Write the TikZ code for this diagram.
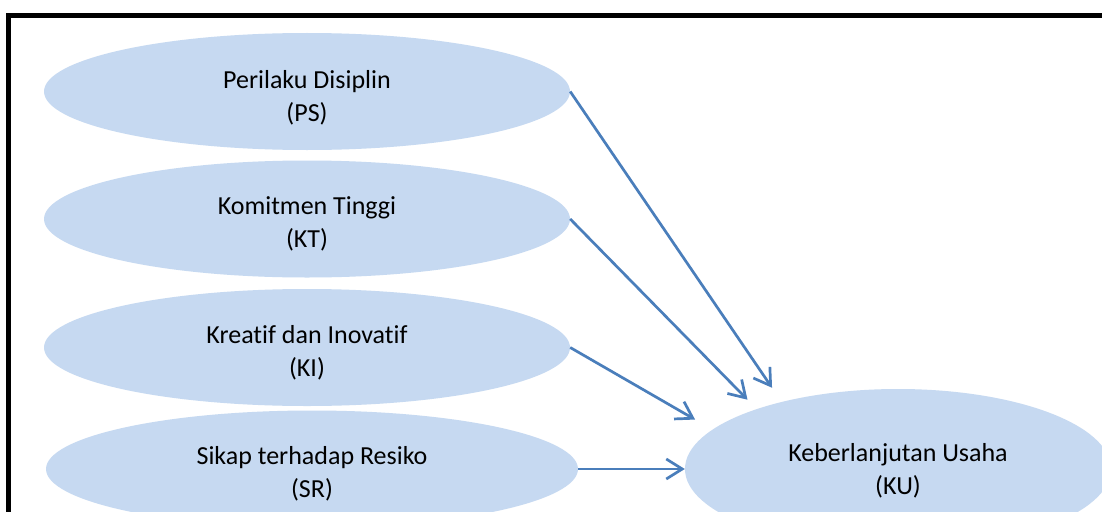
\documentclass[tikz,border=0pt]{standalone}
\usepackage{fontspec}
\setmainfont{Carlito}[Ligatures=NoCommon]
\usetikzlibrary{shapes.geometric,arrows.meta}
\definecolor{ellfill}{HTML}{C6D9F1}
\definecolor{arrcol}{HTML}{4A7EBB}
\begin{document}
\begin{tikzpicture}[x=1pt,y=-1pt,
  ell/.style={ellipse, fill=ellfill, inner sep=0pt, minimum width=526pt, minimum height=117pt},
  lbl/.style={align=center, font=\fontsize{26}{33}\selectfont, inner sep=0pt, text=black},
  arr/.style={draw=arrcol, line width=2.7pt, -{Straight Barb[length=16pt,width=20pt]}}
]
\useasboundingbox (0,0) rectangle (1102,511);
\clip (0,0) rectangle (1102,511);
\fill[white] (0,0) rectangle (1102,511);
% frame
\draw[line width=5pt] (8.5,540) -- (8.5,16) -- (1130,16);
% ellipses
\node[ell] (PS) at (307,91.5) {};
\node[ell] (KT) at (307,219) {};
\node[ell] (KI) at (307,347.5) {};
\node[ell, minimum width=532pt] (SR) at (312,469) {};
\node[ell, minimum width=426pt, minimum height=160pt] (KU) at (898,469) {};
% labels
\node[lbl] (PSt) at ([yshift=-6pt]PS.center) {Perilaku Disiplin\\(PS)};
\node[lbl] (KTt) at ([yshift=-5pt]KT.center) {Komitmen Tinggi\\(KT)};
\node[lbl] (KIt) at ([yshift=-5pt]KI.center) {Kreatif dan Inovatif\\(KI)};
\node[lbl] (SRt) at ([yshift=-5pt]SR.center) {Sikap terhadap Resiko\\(SR)};
\node[lbl] (KUt) at ([yshift=-2pt]KU.center) {Keberlanjutan Usaha\\(KU)};
% connectors
\draw[arr, shorten >=17pt] (PS.east) -- (KU.150);
\draw[arr, shorten >=13pt] (KT.east) -- (KU.157);
\draw[arr, shorten >=20pt] (KI.east) -- (KU.168);
\draw[arr] (SR.east) -- (KU.west);
\end{tikzpicture}
\end{document}
